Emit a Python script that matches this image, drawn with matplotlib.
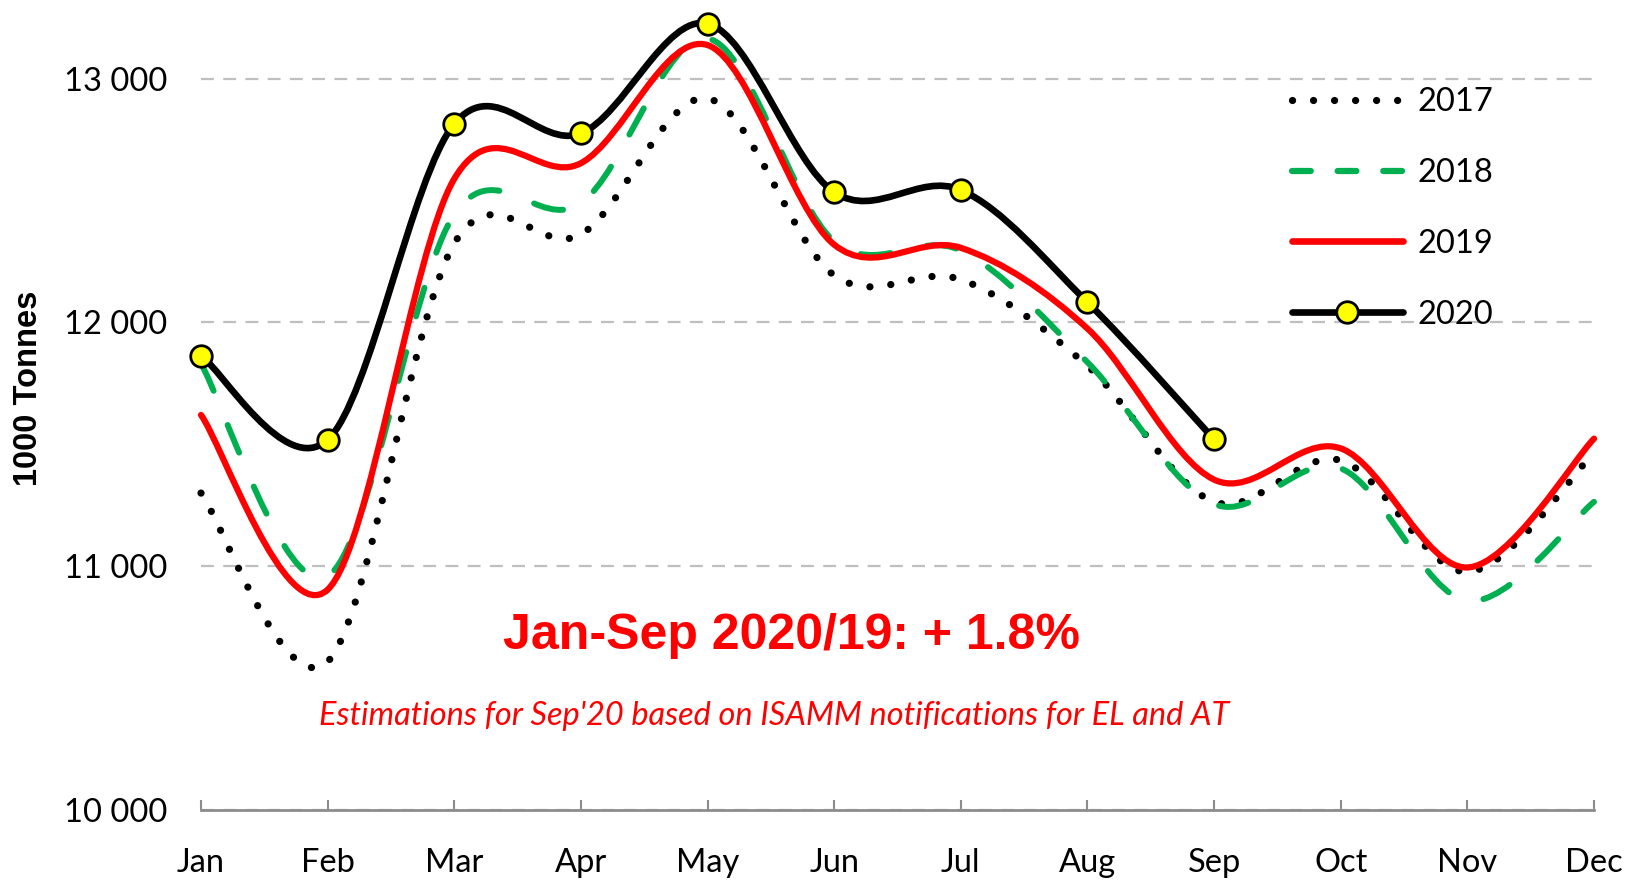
import matplotlib
matplotlib.use("Agg")
import matplotlib.pyplot as plt
from matplotlib.path import Path
from matplotlib.patches import PathPatch
from matplotlib.lines import Line2D

months = ["Jan", "Feb", "Mar", "Apr", "May", "Jun", "Jul", "Aug", "Sep", "Oct", "Nov", "Dec"]
y2017 = [11301, 10610, 12324, 12361, 12918, 12193, 12176, 11822, 11265, 11435, 10978, 11466]
y2018 = [11831, 10960, 12443, 12489, 13164, 12333, 12295, 11837, 11256, 11402, 10859, 11265]
y2019 = [11621, 10905, 12589, 12653, 13137, 12319, 12306, 11975, 11356, 11484, 10996, 11524]
y2020 = [11864, 11519, 12814, 12775, 13225, 12534, 12543, 12083, 11521]
yticks = [10000, 11000, 12000, 13000]
ytick_labels = ["10 000", "11 000", "12 000", "13 000"]

RED = "#FF0000"
GREEN = "#00B050"
GRID = "#BFBFBF"
AXIS = "#8C8C8C"


def smooth_path(ys):
    # Excel-style smoothed line: cubic bezier segments, control points from neighbours / 6
    xs = list(range(len(ys)))
    n = len(ys)
    verts = [(xs[0], ys[0])]
    codes = [Path.MOVETO]
    for i in range(n - 1):
        p0 = max(i - 1, 0)
        p3 = min(i + 2, n - 1)
        c1 = (xs[i] + (xs[i + 1] - xs[p0]) / 6, ys[i] + (ys[i + 1] - ys[p0]) / 6)
        c2 = (xs[i + 1] - (xs[p3] - xs[i]) / 6, ys[i + 1] - (ys[p3] - ys[i]) / 6)
        verts += [c1, c2, (xs[i + 1], ys[i + 1])]
        codes += [Path.CURVE4] * 3
    return Path(verts, codes)


fig = plt.figure(figsize=(16.42, 8.82), dpi=100)
ax = fig.add_axes([0.12241, 0.08107, 0.84836, 0.91292])

styles = [
    (y2017, dict(edgecolor="black", lw=5.2, linestyle=(0, (0.01, 2.9)))),
    (y2018, dict(edgecolor=GREEN, lw=4.3, linestyle=(0, (5, 6.2)))),
    (y2019, dict(edgecolor=RED, lw=4.5, linestyle="solid")),
    (y2020, dict(edgecolor="black", lw=4.8, linestyle="solid")),
]
for i, (ys, st) in enumerate(styles):
    patch = PathPatch(smooth_path(ys), facecolor="none", capstyle="round",
                      joinstyle="round", zorder=3 + i, clip_on=False, **st)
    ax.add_patch(patch)

ax.plot(range(len(y2020)), y2020, linestyle="none", marker="o", ms=15.5,
        mfc="#FFFF00", mec="black", mew=2, zorder=10, clip_on=False)

ax.set_xlim(0, 11)
ax.set_ylim(10000, 13300)

ax.set_xticks(range(12))
ax.set_xticklabels(months, fontsize=23.5, family="Lato")
ax.set_yticks(yticks)
ax.set_yticklabels(ytick_labels, fontsize=23.5, family="Lato")
ax.tick_params(axis="x", direction="in", length=7.5, width=1.5, color=AXIS, pad=27)
ax.tick_params(axis="y", length=0, pad=24)

ax.yaxis.grid(True, color=GRID, lw=1.6, linestyle=(0, (5.8, 4.2)))
ax.set_axisbelow(True)
for s in ["top", "right", "left"]:
    ax.spines[s].set_visible(False)
ax.spines["bottom"].set_color(AXIS)
ax.spines["bottom"].set_linewidth(2)
ax.spines["bottom"].set_zorder(2)

fig.text(29 / 1642, 1 - 388 / 882, "1000 Tonnes", rotation=90, ha="center", va="center",
         fontsize=23.5, fontweight="bold", family="Liberation Sans")

fig.text(791 / 1642, 1 - 636 / 882, "Jan-Sep 2020/19: + 1.8%", ha="center", va="center",
         fontsize=36, fontweight="bold", color=RED, family="Liberation Sans")
fig.text(774 / 1642, 1 - 716 / 882,
         "Estimations for Sep'20 based on ISAMM notifications for EL and AT",
         ha="center", va="center", fontsize=23.4, style="italic", color=RED, family="Lato")

handles = [
    Line2D([], [], color="black", lw=5.2, linestyle=(0, (0.01, 2.9)), dash_capstyle="round"),
    Line2D([], [], color=GREEN, lw=4.5, linestyle=(0, (3.0, 4.3)), dash_capstyle="round"),
    Line2D([], [], color=RED, lw=4.8, solid_capstyle="round"),
    Line2D([], [], color="black", lw=4.8, solid_capstyle="round", marker="o", ms=15.5,
           mfc="#FFFF00", mec="black", mew=2),
]
leg = ax.legend(handles, ["2017", "2018", "2019", "2020"], loc="center left",
                bbox_to_anchor=(1292 / 1642, 1 - 208.5 / 882), bbox_transform=fig.transFigure,
                frameon=False, prop={"family": "Lato", "size": 23.5}, handlelength=3.4,
                handletextpad=0.45, labelspacing=1.25, borderpad=0, borderaxespad=0,
                numpoints=1)

fig.savefig("out.png", dpi=100)
